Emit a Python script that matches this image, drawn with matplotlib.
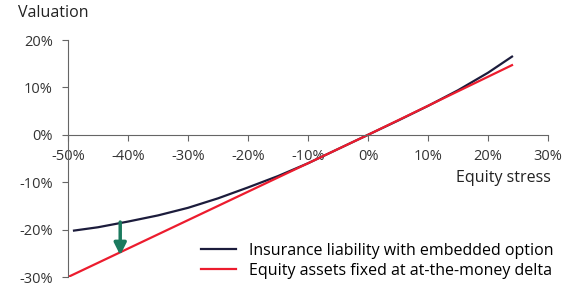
import matplotlib.pyplot as plt

plt.rcParams['font.family'] = ['Open Sans', 'DejaVu Sans']

# data (% values)
stress = [-49, -45, -40, -35, -30, -25, -20, -15, -10, -5, 0, 5, 10, 15, 20, 24]
liability = [-20.2, -19.5, -18.3, -17.0, -15.4, -13.4, -11.1, -8.7, -6.0, -3.0, 0,
             3.0, 6.1, 9.4, 13.1, 16.5]
asset_x = [-50, 0, 24]
asset_y = [-30, 0, 14.7]
xticks = [-50, -40, -30, -20, -10, 0, 10, 20, 30]
yticks = [-30, -20, -10, 0, 10, 20]
labels = ['Insurance liability with embedded option',
          'Equity assets fixed at at-the-money delta']

fig = plt.figure(figsize=(5.73, 2.91), dpi=100)
ax = fig.add_axes([0.1187, 0.048, 0.8377, 0.8145])

ax.plot(stress, liability, color='#1c1c3c', lw=1.6, label=labels[0])
ax.plot(asset_x, asset_y, color='#ec1c2e', lw=1.6, label=labels[1])

# arrow showing the gap
ax.annotate('', xy=(-41.3, -25.4), xytext=(-41.3, -18.4),
            arrowprops=dict(arrowstyle='-|>', color='#1b7a5e', lw=2.5,
                            mutation_scale=18, shrinkA=0, shrinkB=0))

ax.set_xlim(-50, 30)
ax.set_ylim(-30, 20)
ax.spines['top'].set_visible(False)
ax.spines['right'].set_visible(False)
ax.spines['bottom'].set_position(('data', 0))
for s in ['left', 'bottom']:
    ax.spines[s].set_color('#666666')
    ax.spines[s].set_linewidth(0.8)

ax.set_xticks(xticks)
ax.set_xticklabels([f'{v}%' for v in xticks])
ax.set_yticks(yticks)
ax.set_yticklabels([f'{v}%' for v in yticks])
ax.tick_params(axis='both', colors='#666666', labelcolor='#333333',
               labelsize=10.5, length=4, width=0.8)
ax.tick_params(axis='x', pad=6)
ax.tick_params(axis='y', pad=7)

fig.text(0.031, 0.955, 'Valuation', fontsize=11.5, color='#222222', va='center')
ax.text(30.5, -9.2, 'Equity stress', fontsize=11.5, color='#222222', ha='right', va='center')

ax.legend(loc='lower right', frameon=False, fontsize=11.5, handlelength=2.2,
          handletextpad=0.8, borderaxespad=0.0, labelspacing=0.25,
          bbox_to_anchor=(1.025, -0.035))

fig.savefig('out.png', dpi=100)
